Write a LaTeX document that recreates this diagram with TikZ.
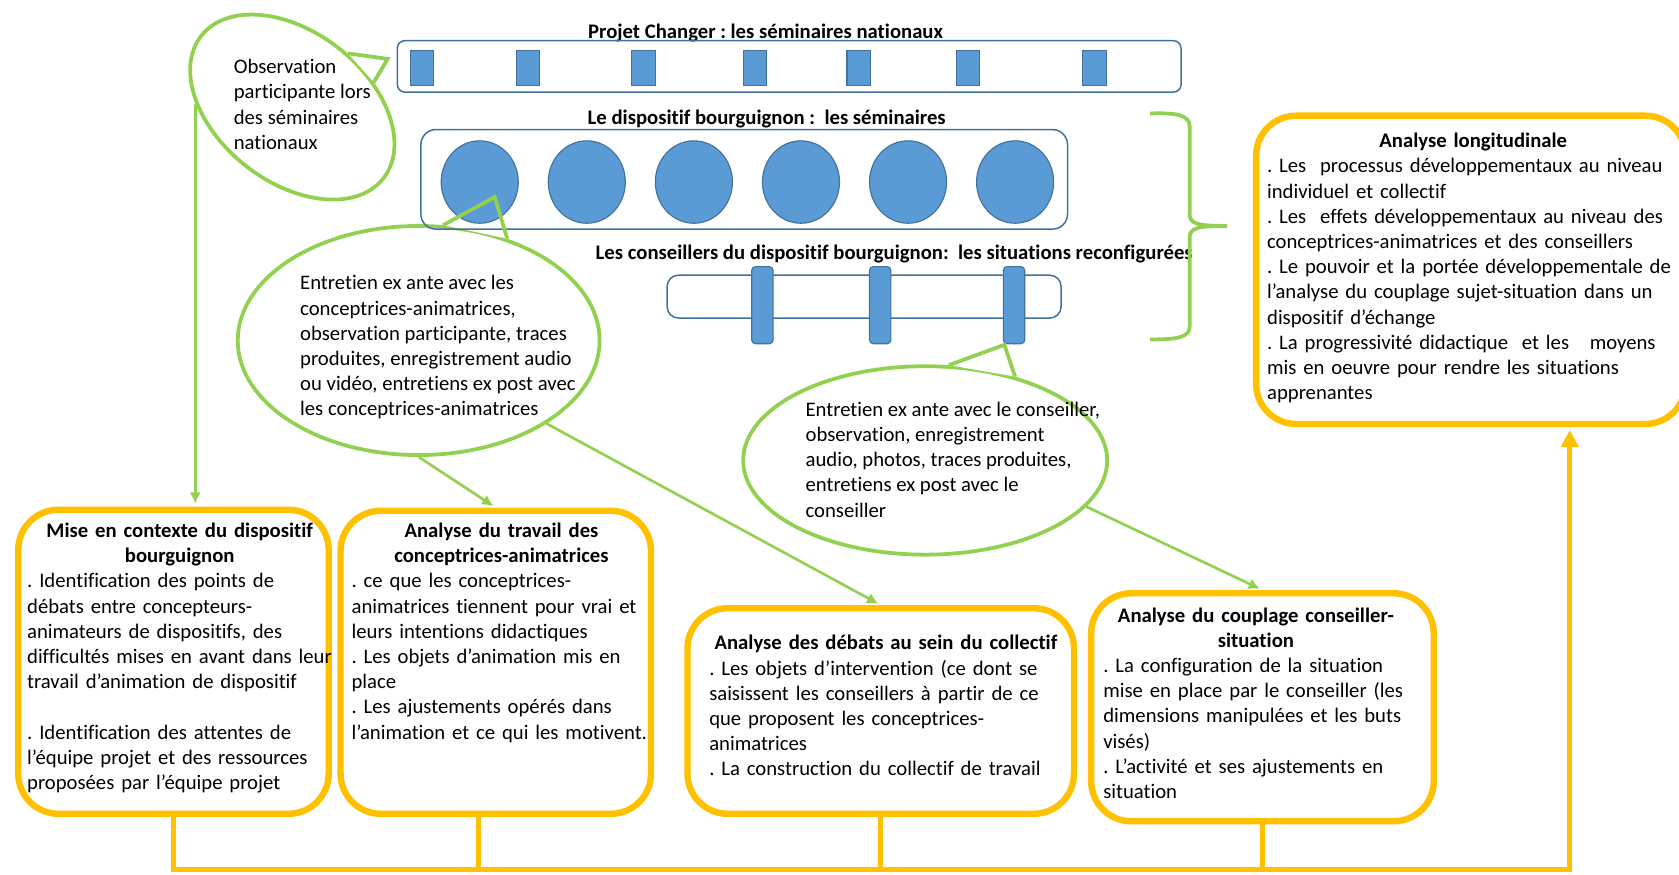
\documentclass[tikz,border=0pt]{standalone}
\usepackage{fontspec}
\setmainfont{Carlito}[Ligatures=NoCommon]
\usetikzlibrary{shapes.geometric,arrows.meta}
\definecolor{vert}{HTML}{92D050}
\definecolor{jaune}{HTML}{FFC000}
\definecolor{bleu}{HTML}{5B9BD5}
\definecolor{bleufonce}{HTML}{41719C}
\frenchspacing
\begin{document}
        \begin{tikzpicture}[x=0.02cm, y=-0.02cm,
            font=\fontsize{11pt}{13.4pt}\selectfont,
            boite/.style={draw=jaune, line width=3.4pt, fill=white, rounded corners=0.75cm, inner sep=0pt},
            texte/.style={inner sep=0pt, anchor=north west, align=left},
            bulle/.style={draw=vert, line width=2pt},
            fleche/.style={draw=vert, line width=1.4pt, -{Latex[length=6pt,width=6pt]}, shorten >=1.5pt},
            flux/.style={draw=jaune, line width=2.5pt},
            cadre/.style={draw=bleufonce, line width=0.8pt, inner sep=0pt},
            pave/.style={draw=bleufonce, fill=bleu, line width=0.6pt, minimum width=0.44cm, minimum height=0.66cm, inner sep=0pt},
            seance/.style={ellipse, draw=bleufonce, fill=bleu, line width=0.6pt, minimum width=1.44cm, minimum height=1.54cm, inner sep=0pt},
            barre/.style={draw=bleufonce, fill=bleu, line width=0.6pt, rounded corners=2pt, minimum width=0.4cm, minimum height=1.44cm, inner sep=0pt},
            titre/.style={font=\fontsize{11pt}{13.4pt}\selectfont\bfseries, inner sep=0pt}]

            \useasboundingbox (0,0) rectangle (1568,817);

            \node[boite, minimum width=5.8cm, minimum height=5.68cm] (box1) at (162,618) {};
            \node[boite, minimum width=5.8cm, minimum height=5.66cm] (box2) at (463,618.5) {};
            \node[boite, minimum width=7.22cm, minimum height=3.84cm] (box3) at (822.5,664) {};
            \node[boite, minimum width=6.4cm, minimum height=4.26cm] (box4) at (1179,660.5) {};
            \node[boite, minimum width=8.02cm, minimum height=5.76cm] (box5) at (1373.5,252) {};

            \node[texte, text width=5.7cm] (txt1) at (25,488) {{\centering\bfseries Mise en contexte du dispositif\\ bourguignon\par}
                . Identification des points de\\
                débats entre concepteurs-\\
                animateurs de dispositifs, des\\
                difficultés mises en avant dans leur\\
                travail d’animation de dispositif\\[13.4pt]
                . Identification des attentes de\\
                l’équipe projet et des ressources\\
                proposées par l’équipe projet};
            \node[texte, text width=5.6cm] (txt2) at (328,488) {{\centering\bfseries Analyse du travail des\\ conceptrices-animatrices\par}
                . ce que les conceptrices-\\
                animatrices tiennent pour vrai et\\
                leurs intentions didactiques\\
                . Les objets d’animation mis en\\
                place\\
                . Les ajustements opérés dans\\
                l’animation et ce qui les motivent.};
            \node[texte, text width=6.6cm] (txt3) at (662,593) {{\centering\bfseries Analyse des débats au sein du collectif\par}
                . Les objets d’intervention (ce dont se\\
                saisissent les conseillers à partir de ce\\
                que proposent les conceptrices-\\
                animatrices\\
                . La construction du collectif de travail};
            \node[texte, text width=5.7cm] (txt4) at (1030,567) {{\centering\bfseries Analyse du couplage conseiller-\\ situation\par}
                . La configuration de la situation\\
                mise en place par le conseiller (les\\
                dimensions manipulées et les buts\\
                visés)\\
                . L’activité et ses ajustements en\\
                situation};
            \node[texte, text width=7.7cm] (txt5) at (1183,124) {{\centering\bfseries Analyse longitudinale\par}
                . Les\ \ processus développementaux au niveau\\
                individuel et collectif\\
                . Les\ \ effets développementaux au niveau des\\
                conceptrices-animatrices et des conseillers\\
                . Le pouvoir et la portée développementale de\\
                l’analyse du couplage sujet-situation dans un\\
                dispositif d’échange\\
                . La progressivité didactique\ \ et les\ \ \ moyens\\
                mis en oeuvre pour rendre les situations\\
                apprenantes};

            \coordinate (bus) at (1466,812);
            \draw[flux, -{Triangle[length=9pt,width=9pt]}, shorten >=1.5pt] (box1.south) |- (bus) -- (bus |- box5.south);
            \draw[flux] ([xshift=-0.32cm]box2.south) -- ([xshift=-0.32cm]box2.south |- bus);
            \draw[flux] (box3.south) -- (box3.south |- bus);
            \draw[flux] (box4.south) -- (box4.south |- bus);

            \node[ellipse, bulle, fill=white, minimum width=4.32cm, minimum height=2.8cm, rotate=-38, inner sep=0pt] (bulleobs) at (273,100) {};
            \node[ellipse, bulle, fill=white, minimum width=6.76cm, minimum height=4.28cm, inner sep=0pt] (bulleca) at (391,318) {};
            \node[ellipse, bulle, fill=white, minimum width=6.8cm, minimum height=3.52cm, inner sep=0pt] (bullecons) at (864,430) {};
            \coordinate (pointe1) at (362,55);
            \coordinate (pointe2) at (462,184);
            \coordinate (pointe3) at (938,322);
            \fill[white] (bulleobs.82) -- (pointe1) -- (bulleobs.55) -- cycle;
            \fill[white] (bulleca.78) -- (pointe2) -- (bulleca.49) -- cycle;
            \fill[white] (bullecons.76) -- (pointe3) -- (bullecons.43) -- cycle;

            \node[titre] (titre1) at (715,31) {Projet Changer : les séminaires nationaux};
            \node[cadre, rounded corners=4pt, minimum width=14.64cm, minimum height=0.96cm] (nationaux) at (737,62) {};
            \foreach \x [count=\i] in {394,493,601,705,802,904,1022}
                \node[pave] (nat\i) at (\x,63.5) {};

            \node[titre] (titre2) at (716,111) {Le dispositif bourguignon :\ \ les séminaires};
            \node[cadre, rounded corners=8pt, minimum width=12.08cm, minimum height=1.86cm] (seminaires) at (695,167.5) {};
            \foreach \x [count=\i] in {448,548,648,748,848,948}
                \node[seance] (sem\i) at (\x,170) {};

            \node[titre] (titre3) at (835,237) {Les conseillers du dispositif bourguignon:\ \ les situations reconfigurées};
            \node[cadre, rounded corners=6pt, minimum width=7.36cm, minimum height=0.8cm] (situations) at (807,277) {};
            \foreach \x [count=\i] in {712,822,947}
                \node[barre] (sit\i) at (\x,285) {};

            \draw[bulle] (bulleobs.82) -- (pointe1) -- (bulleobs.55);
            \draw[bulle] (bulleca.78) -- (pointe2) -- (bulleca.49);
            \draw[bulle] (bullecons.76) -- (pointe3) -- (bullecons.43);

            \node[texte] (obs) at (218,55) {Observation\\participante lors\\des séminaires\\nationaux};
            \node[texte] (ca) at (280,257) {Entretien ex ante avec les\\
                conceptrices-animatrices,\\
                observation participante, traces\\
                produites, enregistrement audio\\
                ou vidéo, entretiens ex post avec\\
                les conceptrices-animatrices};
            \node[texte] (cons) at (752,375) {Entretien ex ante avec le conseiller,\\
                observation, enregistrement\\
                audio, photos, traces produites,\\
                entretiens ex post avec le\\
                conseiller};

            \draw[fleche] (bulleobs.216) -- (bulleobs.216 |- box1.north);
            \draw[fleche] (bulleca.south) -- (box2.north);
            \draw[fleche] (bulleca.-33) -- (box3.north);
            \draw[fleche] (bullecons.-16) -- (box4.north);

            \draw[bulle] (1074,106) .. controls (1100,105) and (1111,108) .. (1111,118) -- (1111,200)
                .. controls (1111,209) and (1118,211) .. (1146,211)
                .. controls (1118,211) and (1111,213) .. (1111,222) -- (1111,305)
                .. controls (1111,315) and (1100,317) .. (1074,317);
        \end{tikzpicture}
\end{document}
